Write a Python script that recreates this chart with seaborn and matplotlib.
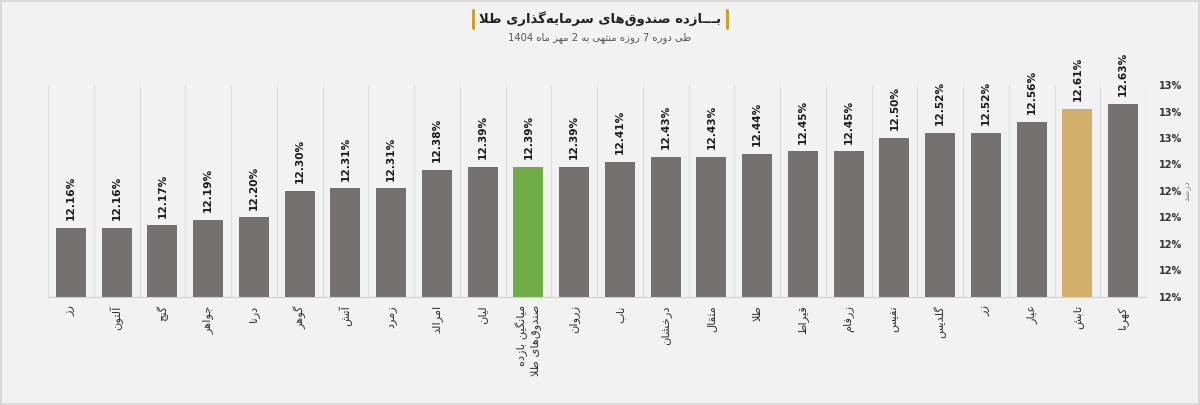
"""
Gold ETF weekly returns bar chart (Persian labels).
Output: out.png
"""

import re
import numpy as np
import pandas as pd
import matplotlib
matplotlib.use('Agg')
import matplotlib.pyplot as plt
import seaborn as sns
from matplotlib.ticker import FixedLocator, FuncFormatter

# --- 1. Data ---
funds = ['رز', 'آلتون', 'گنج', 'جواهر', 'درنا', 'گوهر', 'آتش', 'زمرد', 'امرالد', 'لیان',
         'میانگین بازده\nصندوق‌های طلا', 'زروان', 'ناب', 'درخشان', 'مثقال', 'طلا', 'قیراط',
         'زرفام', 'نفیس', 'گلدیس', 'زر', 'عیار', 'تابش', 'کهربا']
returns = [12.16, 12.16, 12.17, 12.19, 12.20, 12.30, 12.31, 12.31, 12.38, 12.39,
           12.39, 12.39, 12.41, 12.43, 12.43, 12.44, 12.45, 12.45, 12.50, 12.52,
           12.52, 12.56, 12.61, 12.63]
y_ticks = [11.9, 12.0, 12.1, 12.2, 12.3, 12.4, 12.5, 12.6, 12.7]

title = 'بـــازده صندوق‌های سرمایه‌گذاری طلا'
subtitle = 'طی دوره 7 روزه منتهی به 2 مهر ماه 1404'
y_label = 'درصد'

AVG_LABEL = funds[10]
HIGHLIGHT = 'تابش'
GREY, GREEN, GOLD = '#767171', '#70ad47', '#d4b06c'
BG = '#f2f2f2'

# --- 2. Minimal Persian shaping (matplotlib has no text shaping / bidi) ---
FORMS = {
    'ا': ('\uFE8D', '\uFE8E', None, None), 'آ': ('\uFE81', '\uFE82', None, None),
    'ب': ('\uFE8F', '\uFE90', '\uFE91', '\uFE92'), 'پ': ('\uFB56', '\uFB57', '\uFB58', '\uFB59'),
    'ت': ('\uFE95', '\uFE96', '\uFE97', '\uFE98'), 'ث': ('\uFE99', '\uFE9A', '\uFE9B', '\uFE9C'),
    'ج': ('\uFE9D', '\uFE9E', '\uFE9F', '\uFEA0'), 'چ': ('\uFB7A', '\uFB7B', '\uFB7C', '\uFB7D'),
    'ح': ('\uFEA1', '\uFEA2', '\uFEA3', '\uFEA4'), 'خ': ('\uFEA5', '\uFEA6', '\uFEA7', '\uFEA8'),
    'د': ('\uFEA9', '\uFEAA', None, None), 'ذ': ('\uFEAB', '\uFEAC', None, None),
    'ر': ('\uFEAD', '\uFEAE', None, None), 'ز': ('\uFEAF', '\uFEB0', None, None),
    'ژ': ('\uFB8A', '\uFB8B', None, None),
    'س': ('\uFEB1', '\uFEB2', '\uFEB3', '\uFEB4'), 'ش': ('\uFEB5', '\uFEB6', '\uFEB7', '\uFEB8'),
    'ص': ('\uFEB9', '\uFEBA', '\uFEBB', '\uFEBC'), 'ض': ('\uFEBD', '\uFEBE', '\uFEBF', '\uFEC0'),
    'ط': ('\uFEC1', '\uFEC2', '\uFEC3', '\uFEC4'), 'ظ': ('\uFEC5', '\uFEC6', '\uFEC7', '\uFEC8'),
    'ع': ('\uFEC9', '\uFECA', '\uFECB', '\uFECC'), 'غ': ('\uFECD', '\uFECE', '\uFECF', '\uFED0'),
    'ف': ('\uFED1', '\uFED2', '\uFED3', '\uFED4'), 'ق': ('\uFED5', '\uFED6', '\uFED7', '\uFED8'),
    'ک': ('\uFB8E', '\uFB8F', '\uFB90', '\uFB91'), 'گ': ('\uFB92', '\uFB93', '\uFB94', '\uFB95'),
    'ل': ('\uFEDD', '\uFEDE', '\uFEDF', '\uFEE0'), 'م': ('\uFEE1', '\uFEE2', '\uFEE3', '\uFEE4'),
    'ن': ('\uFEE5', '\uFEE6', '\uFEE7', '\uFEE8'), 'و': ('\uFEED', '\uFEEE', None, None),
    'ه': ('\uFEE9', '\uFEEA', '\uFEEB', '\uFEEC'), 'ی': ('\uFBFC', '\uFBFD', '\uFBFE', '\uFBFF'),
    'ـ': ('ـ', 'ـ', 'ـ', 'ـ'),
}
LAM_ALEF = {'ا': ('\uFEFB', '\uFEFC'), 'آ': ('\uFEF5', '\uFEF6')}


def _dual(c):
    return c in FORMS and FORMS[c][2] is not None


def shape_line(text):
    chars = list(text)
    out = []
    i = 0
    while i < len(chars):
        c = chars[i]
        if c not in FORMS:
            out.append(c)
            i += 1
            continue
        join_prev = i > 0 and _dual(chars[i - 1])
        if c == 'ل' and i + 1 < len(chars) and chars[i + 1] in LAM_ALEF:
            iso, fin = LAM_ALEF[chars[i + 1]]
            out.append(fin if join_prev else iso)
            i += 2
            continue
        join_next = _dual(c) and i + 1 < len(chars) and chars[i + 1] in FORMS
        iso, fin, ini, med = FORMS[c]
        if join_prev and join_next:
            out.append(med)
        elif join_prev:
            out.append(fin)
        elif join_next:
            out.append(ini)
        else:
            out.append(iso)
        i += 1
    s = ''.join(out).replace('\u200c', '')[::-1]
    # numbers stay left-to-right
    return re.sub(r'[0-9.%]+', lambda m: m.group(0)[::-1], s)


def fa(text):
    return '\n'.join(shape_line(line) for line in text.split('\n'))


# --- 3. Plot ---
sns.set_style('white', {'axes.facecolor': BG, 'figure.facecolor': BG})
plt.rcParams['font.family'] = ['DejaVu Sans']

df = pd.DataFrame({'fund': funds, 'ret': returns})
palette = {f: GREY for f in funds}
palette[AVG_LABEL] = GREEN
palette[HIGHLIGHT] = GOLD

fig = plt.figure(figsize=(12, 4.05), dpi=100)
ax = fig.add_axes([0.04, 0.267, 0.915, 0.523])

sns.barplot(data=df, x='fund', y='ret', hue='fund', palette=palette,
            legend=False, width=0.66, saturation=1, ax=ax, linewidth=0)

for cont in ax.containers:
    ax.bar_label(cont, fmt='{:.2f}%', rotation=90, padding=5.5,
                 fontsize=7.6, fontweight='bold', color='#1a1a1a')

ax.set_ylim(y_ticks[0], y_ticks[-1])
ax.set_xlim(-0.5, len(funds) - 0.5)

# y axis on the right, integer percent labels
ax.yaxis.tick_right()
ax.yaxis.set_label_position('right')
ax.yaxis.set_major_locator(FixedLocator(y_ticks))
ax.yaxis.set_major_formatter(FuncFormatter(lambda v, p: f'{int(np.floor(v + 0.5 + 1e-9))}%'))
ax.tick_params(axis='y', length=0, pad=9, labelsize=7, labelcolor='#333333')
for lbl in ax.get_yticklabels():
    lbl.set_fontweight('bold')
ax.set_ylabel(fa(y_label), fontsize=6.5, color='#888888', labelpad=0, rotation=90)

# x labels
ax.set_xticks(range(len(funds)))
ax.set_xticklabels([fa(f) for f in funds], rotation=90, fontsize=8.2,
                   color='#333333', va='top', ha='center', multialignment='right')
ax.tick_params(axis='x', length=0, pad=6)
ax.set_xlabel('')

# vertical separators between categories
ax.set_xticks(np.arange(-0.5, len(funds), 1), minor=True)
ax.tick_params(axis='x', which='minor', length=0)
ax.grid(True, axis='x', which='minor', color='#dedede', linewidth=0.9)
ax.grid(False, axis='x', which='major')
ax.grid(False, axis='y')
ax.set_axisbelow(True)

for side in ['top', 'left', 'right']:
    ax.spines[side].set_visible(False)
ax.spines['bottom'].set_color('#d0d0d0')

# title with gold markers
t = fig.text(0.5, 0.953, fa(title), ha='center', va='center', fontsize=9.5,
             fontweight='bold', color='#222222')
fig.text(0.5, 0.908, fa(subtitle), ha='center', va='center', fontsize=7.2,
         color='#555555')
fig.canvas.draw()
bb = t.get_window_extent().transformed(fig.transFigure.inverted())
for xpos in (bb.x0 - 0.005, bb.x1 + 0.005):
    fig.add_artist(plt.Line2D([xpos, xpos], [0.932, 0.975], color='#c9a227',
                              linewidth=2.2, transform=fig.transFigure))

# light frame around the figure
fig.add_artist(plt.Rectangle((0.0005, 0.002), 0.999, 0.996, fill=False,
                             edgecolor='#d6d6d6', linewidth=1.2,
                             transform=fig.transFigure))

fig.savefig('out.png', dpi=100, facecolor=BG)
print("saved out.png")
